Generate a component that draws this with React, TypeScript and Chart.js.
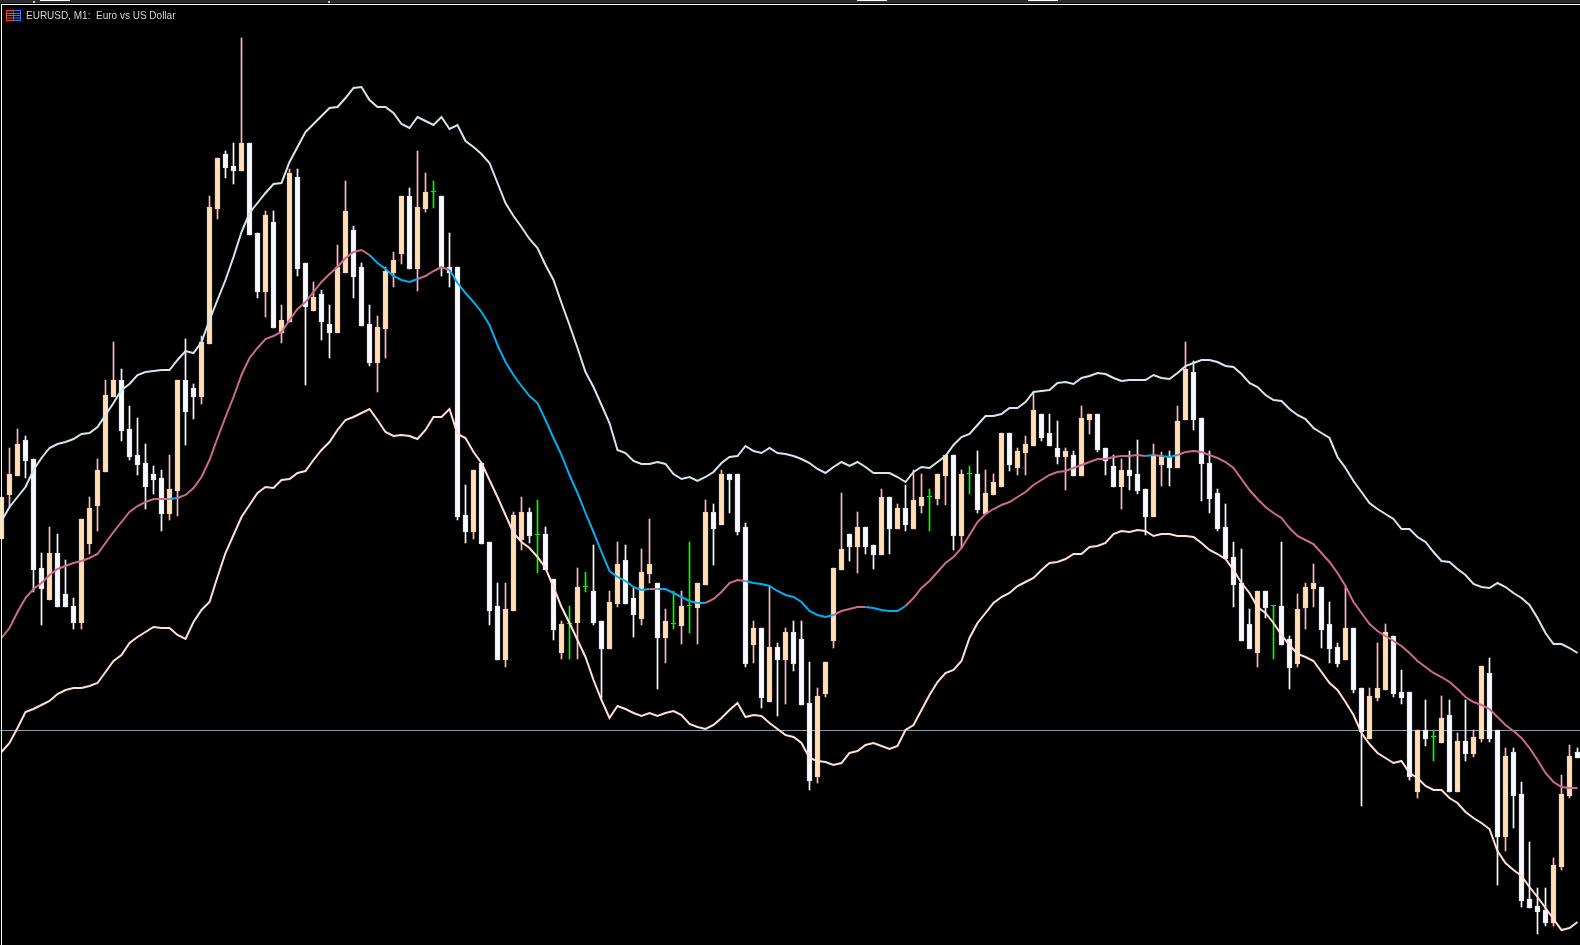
import React, { useEffect, useRef } from "react";
import { Chart, registerables } from "chart.js";

Chart.register(...registerables);

// All series are price levels in points above the bottom of the visible window; one per M1 bar.
const highs = [448,497,516,509,486,392,418,411,385,347,
426,448,486,565,603,576,539,527,501,479,
475,490,565,606,561,609,749,787,794,802,
907,802,712,734,734,640,776,776,682,663,
655,640,700,764,719,682,640,629,678,693,
749,757,794,772,764,749,712,678,460,475,
482,403,362,362,433,448,437,445,418,366,
324,339,377,373,400,324,354,403,400,357,
396,426,362,336,354,354,403,362,445,441,
475,471,471,422,324,317,358,302,317,324,
324,283,257,283,377,452,411,433,418,400,
456,448,441,460,475,471,456,471,490,490,
475,479,494,475,471,512,512,497,509,552,
531,531,524,497,494,539,531,531,497,490,
486,494,505,456,501,493,494,539,603,584,
527,494,456,441,403,396,336,354,354,339,
403,309,351,362,381,358,343,302,358,317,
257,257,302,321,309,275,253,215,245,215,
249,245,212,245,215,279,287,215,197,197,
163,103,57,57,87,170,200,197];

const lows = [406,437,469,467,353,320,345,338,338,316,
316,391,414,473,548,504,485,470,436,451,
414,425,429,500,526,541,601,726,767,761,
774,710,647,628,617,602,623,669,560,634,
605,587,612,672,647,619,579,553,587,658,
681,676,654,733,737,669,658,425,402,406,
401,320,285,278,334,395,402,372,375,305,
286,286,286,353,320,247,296,338,341,308,
320,362,256,282,316,301,312,301,360,380,
420,432,410,278,282,237,243,229,241,274,
240,155,162,248,297,375,384,372,391,376,
390,391,416,414,416,432,414,440,440,395,
397,451,432,431,450,458,474,470,470,499,
504,499,481,455,469,469,511,493,470,458,
436,455,451,410,428,459,459,477,525,515,
444,432,414,386,338,304,296,278,327,286,
300,256,278,316,338,297,282,278,285,252,
139,206,244,255,248,241,165,147,199,184,
202,153,153,184,188,203,203,60,94,117,
38,37,11,19,19,75,147,187];

const opens = [406,450,469,505,486,377,345,392,351,339,
322,401,439,473,548,565,516,490,482,471,
467,431,454,565,557,548,601,736,791,779,
774,802,712,653,723,612,623,768,682,634,
651,621,612,672,715,678,621,582,616,672,
691,749,676,736,753,749,678,678,430,413,
482,403,339,285,334,405,433,410,411,366,
292,321,322,358,354,324,296,341,385,347,
326,371,362,307,321,319,339,337,360,433,
420,471,471,418,300,317,243,298,285,313,
306,242,168,251,304,375,411,398,418,400,
390,448,416,437,416,439,448,446,469,490,
409,471,471,431,450,458,512,477,492,499,
531,512,497,488,490,469,525,531,497,479,
458,475,471,456,428,480,489,477,525,573,
527,482,452,418,388,362,321,292,354,339,
339,306,281,337,356,358,321,298,285,317,
257,206,247,255,309,253,253,153,215,208,
202,230,153,204,191,206,272,215,108,193,
151,46,39,35,22,78,149,193];

const closes = [448,471,501,484,375,356,392,338,338,322,
426,437,475,550,565,514,488,480,458,465,
431,456,565,533,548,603,738,787,777,774,
802,710,653,730,617,625,772,676,638,648,
623,612,678,734,668,619,582,618,674,685,
749,676,738,753,753,678,672,428,413,475,
401,334,285,336,430,433,409,410,375,315,
321,321,358,358,322,296,343,381,341,330,
373,381,307,324,321,339,339,362,433,416,
471,465,413,281,317,247,298,285,313,281,
240,164,249,283,377,396,398,418,398,390,
448,416,437,420,445,448,448,471,490,409,
471,471,435,452,463,512,480,494,501,535,
507,499,488,494,469,527,531,495,484,458,
475,469,454,428,490,489,477,524,576,525,
481,446,416,386,360,304,296,354,337,339,
300,277,336,358,362,315,296,281,317,255,
213,249,257,313,251,247,168,215,206,208,
227,153,204,191,208,279,206,108,189,149,
44,37,33,22,80,151,189,187];

const upperBand = [424,438,448,458,475,487,497,501,503,506,
511,512,518,530,542,555,561,570,573,574,
575,575,585,594,592,603,625,645,665,688,
713,732,742,752,761,762,783,798,813,821,
829,837,838,847,857,858,845,838,838,832,
821,817,828,824,820,828,816,820,804,798,
791,782,762,742,729,718,706,697,680,665,
642,620,597,573,558,540,522,495,492,484,
481,481,483,481,471,466,468,464,468,473,
482,488,489,499,494,492,497,492,491,489,
486,482,476,472,478,483,479,483,478,472,
472,472,468,463,473,478,477,483,489,500,
508,511,520,529,529,531,537,537,543,553,
554,555,562,563,561,567,569,572,571,567,
564,565,565,565,570,567,566,572,579,582,
585,585,583,579,578,571,562,558,550,545,
544,536,530,526,517,512,507,488,477,464,
453,442,436,431,426,416,416,408,403,393,
384,383,376,370,361,358,357,362,358,352,
347,340,327,312,301,301,297,292];

const middleBand = [307,317,333,347,356,362,370,376,379,382,
384,387,391,402,413,423,433,439,443,446,
446,446,447,450,457,468,485,507,528,548,
570,587,597,606,609,613,625,636,643,653,
663,671,678,687,693,695,690,682,676,669,
665,663,666,669,674,678,675,662,652,643,
633,620,600,583,570,559,549,542,525,507,
490,470,452,432,413,393,374,368,364,358,
355,356,356,356,352,348,344,342,342,346,
353,362,365,364,362,361,359,354,350,348,
343,334,330,328,330,334,336,338,338,337,
335,334,334,339,347,357,364,373,382,388,
397,410,423,431,436,440,443,448,453,460,
465,470,473,474,477,480,483,486,486,488,
489,489,490,489,490,489,488,490,493,494,
493,490,487,483,477,466,455,446,438,432,
427,417,409,405,401,392,383,372,359,343,
332,321,314,309,304,299,292,284,278,272,
268,263,256,248,243,240,236,228,220,214,
207,197,185,172,163,158,157,157];

const lowerBand = [193,202,217,233,236,240,244,251,255,257,
257,259,262,273,284,290,302,308,313,318,
317,317,310,306,323,335,343,368,392,410,
428,440,452,458,457,465,466,472,474,485,
495,503,515,525,528,532,536,525,513,509,
510,509,506,515,528,528,536,511,507,493,
482,465,448,430,412,403,397,388,377,358,
338,322,305,288,265,245,227,239,236,232,
229,232,229,232,234,230,221,218,216,220,
227,235,242,228,230,229,222,216,210,208,
202,187,184,183,180,182,192,194,200,202,
199,196,199,215,220,235,250,263,272,275,
284,307,322,332,342,348,352,359,363,367,
375,382,383,386,391,391,398,399,402,411,
414,413,415,414,409,411,411,409,409,408,
402,395,391,386,375,362,352,338,332,322,
310,300,291,288,284,273,262,255,243,230,
212,201,192,187,182,184,172,167,159,155,
155,147,142,133,127,122,116,94,82,75,
69,58,48,37,26,15,17,23];

// Bar ranges [from, to) over which the middle band is in its "falling" colour.
const blueSpans = [[21,22],[46,52],[56,81],[82,88],[93,104],[108,113],[143,144],[145,147]];
const bidLevel = 214.5;
const chartTitle = "EURUSD, M1:  Euro vs US Dollar";

const BULL_FILL = "#FFDDB6";
const BULL_EDGE = "#FFCDB8";
const BULL_WICK = "#FFB6C1";
const BEAR_FILL = "#F8F8FF";
const BEAR_EDGE = "#E6E6FA";
const DOJI = "#00FF00";
const MID_PINK = "#CD6A8E";
const MID_BLUE = "#00B0EC";

const W = 1580;
const H = 945;
const X_MIN = -0.1875;
const X_MAX = X_MIN + W / 8;

function App() {
  const ref = useRef<HTMLCanvasElement | null>(null);

  useEffect(() => {
    document.body.style.margin = "0";
    document.body.style.background = "#000";
    const kind = (i: number) => (closes[i] > opens[i] ? "u" : closes[i] < opens[i] ? "d" : "g");
    const fills = highs.map((_, i) => ({ u: BULL_FILL, d: BEAR_FILL, g: DOJI })[kind(i)]);
    const edges = highs.map((_, i) => ({ u: BULL_EDGE, d: BEAR_EDGE, g: DOJI })[kind(i)]);
    const wicks = highs.map((_, i) => ({ u: BULL_WICK, d: BEAR_FILL, g: DOJI })[kind(i)]);
    const series = (v: number[]) => v.map((y, x) => ({ x, y }));
    const chart = new Chart(ref.current as HTMLCanvasElement, {
      type: "bar",
      data: {
        datasets: [
          {
            type: "line",
            data: [{ x: X_MIN, y: bidLevel }, { x: X_MAX, y: bidLevel }],
            borderColor: "#8C99A8",
            borderWidth: 1,
            pointRadius: 0,
            order: 4,
          },
          {
            data: highs.map((h, x) => ({ x, y: [lows[x], h] })),
            backgroundColor: wicks,
            borderWidth: 0,
            barThickness: 1,
            grouped: false,
            order: 3,
          },
          {
            data: highs.map((_, x) => ({
              x,
              y: opens[x] === closes[x]
                ? [closes[x], closes[x] + 1]
                : [Math.min(opens[x], closes[x]), Math.max(opens[x], closes[x])],
            })),
            backgroundColor: fills,
            borderColor: edges,
            borderWidth: 1,
            borderSkipped: false,
            barThickness: 5,
            grouped: false,
            order: 2,
          },
          {
            type: "line",
            data: series(upperBand),
            borderColor: "#D3E8EC",
            borderWidth: 2,
            pointRadius: 0,
            order: 1,
          },
          {
            type: "line",
            data: series(lowerBand),
            borderColor: "#FFE0D8",
            borderWidth: 2,
            pointRadius: 0,
            order: 1,
          },
          {
            type: "line",
            data: series(middleBand),
            borderColor: MID_PINK,
            borderWidth: 2,
            pointRadius: 0,
            order: 0,
            segment: {
              borderColor: (ctx: any) =>
                blueSpans.some(([a, b]) => ctx.p0DataIndex >= a && ctx.p0DataIndex < b) ? MID_BLUE : MID_PINK,
            },
          },
        ] as any,
      },
      options: {
        animation: false,
        responsive: false,
        devicePixelRatio: 1,
        layout: { padding: 0 },
        plugins: { legend: { display: false }, tooltip: { enabled: false }, title: { display: false } },
        scales: {
          x: { type: "linear", display: false, min: X_MIN, max: X_MAX, offset: false },
          y: { type: "linear", display: false, min: 0, max: H },
        },
      } as any,
    });
    return () => chart.destroy();
  }, []);

  const box = (left: number, top: number, width: number, height: number, background: string) => (
    <div style={{ position: "absolute", left, top, width, height, background }} />
  );

  return (
    <div style={{ position: "relative", width: W, height: H, background: "#000", overflow: "hidden" }}>
      <canvas ref={ref} width={W} height={H} style={{ display: "block", position: "absolute", left: 0, top: 0 }} />
      {box(0, 0, W, 3, "#2B2B2B")}
      {box(40, 0, 30, 1, "#FFFFFF")}
      {box(33, 1, 2, 2, "#C8C8C8")}
      {box(328, 1, 2, 2, "#C8C8C8")}
      {box(857, 0, 30, 1, "#FFFFFF")}
      {box(1028, 0, 30, 1, "#FFFFFF")}
      {box(0, 3, W, 1, "#000000")}
      {box(1, 4, W - 1, 1, "#FFFFFF")}
      {box(1, 4, 1, H - 4, "#FFFFFF")}
      <svg width="16" height="12" style={{ position: "absolute", left: 6, top: 10 }}>
        <rect x="0.5" y="0.5" width="7" height="10" fill="none" stroke="#FF4030" />
        <rect x="7.5" y="0.5" width="7" height="10" fill="none" stroke="#2080FF" />
        <path d="M0 3.5H7M0 5.5H7M0 8H7" stroke="#FF4030" />
        <path d="M8 3.5H15M8 5.5H15M8 8H15" stroke="#2080FF" />
      </svg>
      <div
        style={{
          position: "absolute",
          left: 26,
          top: 9,
          font: "10px/13px 'Liberation Sans', sans-serif",
          color: "#D6D6D6",
          whiteSpace: "pre",
        }}
      >
        {chartTitle}
      </div>
    </div>
  );
}

export default App;
